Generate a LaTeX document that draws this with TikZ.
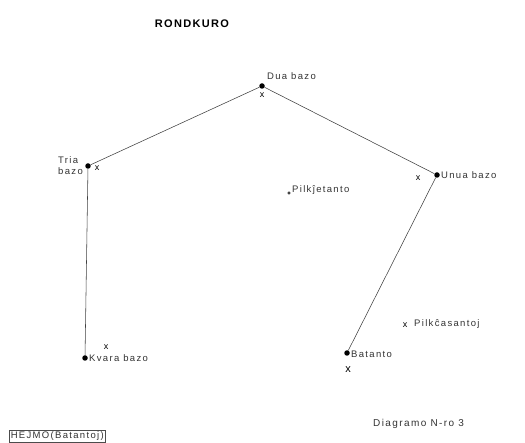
\documentclass[tikz,border=0pt]{standalone}
\usepackage{fontspec}
\setmainfont{Liberation Sans}
\newfontfamily\spaced[LetterSpace=14]{Liberation Sans}
\newfontfamily\titlefont[LetterSpace=12]{Liberation Sans}
\begin{document}
\begin{tikzpicture}[x=1pt,y=-1pt,
  base/.style={circle,fill=black,inner sep=0pt,minimum size=5.5pt},
  lbl/.style={font=\spaced\fontsize{9.5}{11}\selectfont,text=black!80,inner sep=1pt},
  cross/.style={font=\fontsize{9}{9}\selectfont,inner sep=0pt},
  edge/.style={draw=black!75,line width=0.55pt}]
\path[use as bounding box] (0,0) rectangle (525,443);
% title
\node[font=\titlefont\bfseries\fontsize{11}{12}\selectfont] (title) at (192,24) {RONDKURO};
% bases
\node[base] (dua) at (262,86) {};
\node[base] (tria) at (88,166) {};
\node[base] (unua) at (437,175) {};
\node[base] (kvara) at (85,358) {};
\node[base] (bat) at (347,353) {};
% labels
\node[lbl,anchor=west] (lDua) at (266,76) {Dua bazo};
\node[lbl,anchor=east,align=left] (lTria) at (84,166) {Tria\\bazo};
\node[lbl,anchor=west] (lUnua) at (440,175) {Unua bazo};
\node[lbl,anchor=west] (lKvara) at (88,358) {Kvara bazo};
\node[lbl,anchor=west] (lBat) at (350,354) {Batanto};
% crosses
\node[cross] (xDua) at (262,95) {x};
\node[cross] (xTria) at (97,168) {x};
\node[cross] (xUnua) at (418,178) {x};
\node[cross] (xKvara) at (106,347) {x};
\node[cross,font=\fontsize{11}{11}\selectfont] (xBat) at (348,370) {x};
% fielders
\node[circle,draw=black,line width=0.6pt,inner sep=0pt,minimum size=2.5pt] (pj) at (289,193) {};
\node[lbl,anchor=west] (lpj) at (291,190) {Pilkĵetanto};
\node[cross] (xpc) at (405,325) {x};
\node[lbl,anchor=west] (lpc) at (413,324) {Pilkĉasantoj};
% connectors
\draw[edge] (tria) -- (dua);
\draw[edge] (dua) -- (unua);
\draw[edge] (unua) -- (bat);
\draw[edge] (tria) -- (kvara);
% bottom
\node[lbl,anchor=west,draw=black!70,line width=0.5pt,inner sep=1.5pt] (hejmo) at (9,436) {HEJMO(Batantoj)};
\node[lbl,anchor=west,font=\spaced\fontsize{10}{12}\selectfont] (diag) at (372,424) {Diagramo N-ro 3};
\end{tikzpicture}
\end{document}
